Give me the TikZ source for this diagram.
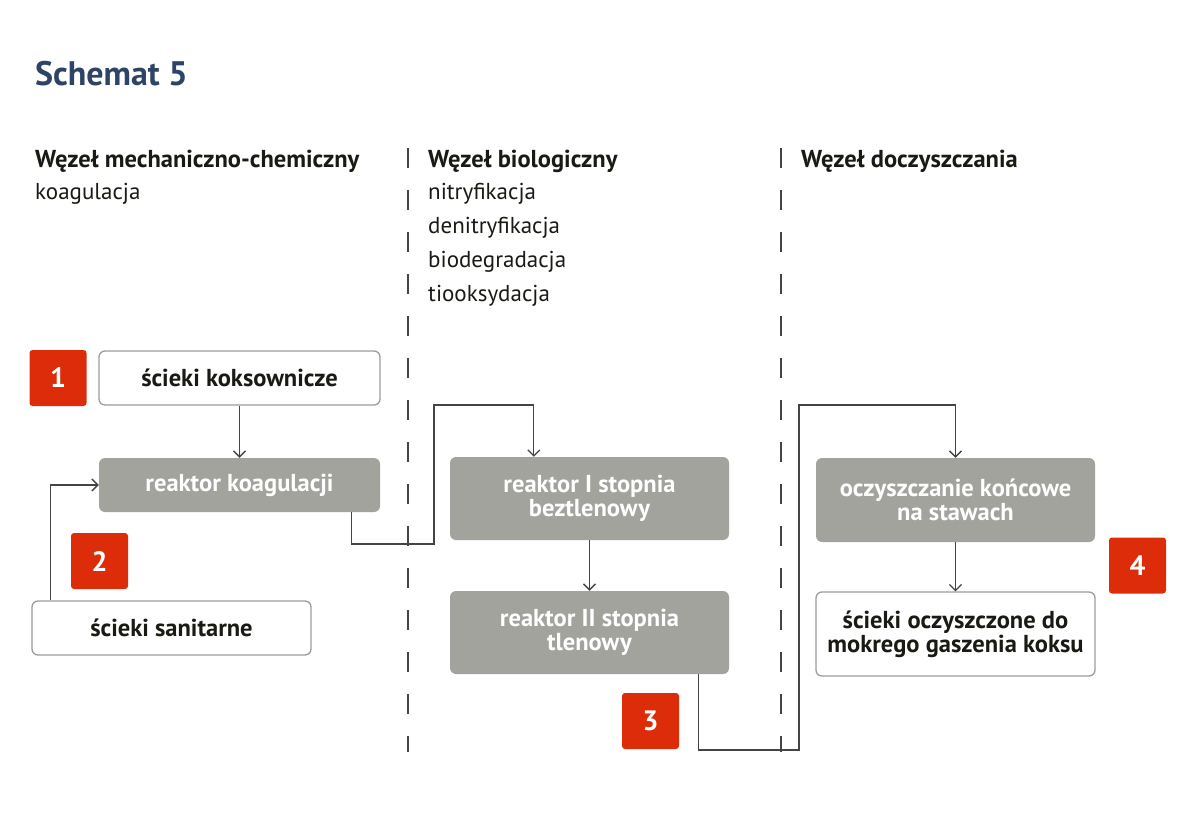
\documentclass[tikz,border=0pt]{standalone}
\usepackage{fontspec}
\setmainfont{PT Sans}
\usetikzlibrary{arrows.meta,calc}
\definecolor{boxgray}{HTML}{A3A39E}
\definecolor{badgered}{HTML}{DD2C0A}
\definecolor{titleblue}{HTML}{2E4466}
\definecolor{linegray}{HTML}{444444}
\definecolor{bordergray}{HTML}{9C9C9C}
\definecolor{txt}{HTML}{1A1A14}
\tikzset{
  whitebox/.style={draw=bordergray,line width=1.3pt,fill=white,rounded corners=6pt,minimum width=279pt,align=center,text=txt,font=\fontsize{24.5}{24}\selectfont\bfseries,inner sep=0pt},
  graybox/.style={fill=boxgray,rounded corners=6pt,minimum width=279pt,align=center,text=white,font=\fontsize{24.5}{24}\selectfont\bfseries,inner sep=0pt},
  badge/.style={fill=badgered,rounded corners=3pt,minimum width=57pt,minimum height=56pt,text=white,font=\fontsize{28}{30}\selectfont\bfseries,inner sep=0pt},
  flow/.style={draw=linegray,line width=1.3pt,-{Straight Barb[length=6pt,width=12pt,line width=1.3pt]}},
  sep/.style={draw=linegray,line width=1.3pt,dash pattern=on 20pt off 22pt},
  head/.style={anchor=base west,font=\fontsize{24.5}{26}\selectfont\bfseries,text=txt,inner sep=0pt},
  item/.style={anchor=base west,font=\fontsize{23}{26}\selectfont,text=txt,inner sep=0pt}
}
\begin{document}
\begin{tikzpicture}[x=1pt,y=-1pt]
\useasboundingbox (0,0) rectangle (1200,816);
% title
\node[anchor=base west,inner sep=0pt,text=titleblue,font=\fontsize{34}{36}\selectfont\bfseries] (title) at (35,85) {Schemat 5};
% column headers
\node[head] (h1) at (35,167) {Węzeł mechaniczno-chemiczny};
\node[item] (h1a) at (35,199) {koagulacja};
\node[head] (h2) at (428,167) {Węzeł biologiczny};
\node[item] (h2a) at (428,199) {nitryfikacja};
\node[item] (h2b) at (428,233) {denitryfikacja};
\node[item] (h2c) at (428,267) {biodegradacja};
\node[item] (h2d) at (428,301) {tiooksydacja};
\node[head] (h3) at (801,167) {Węzeł doczyszczania};
% separators
\coordinate (s1t) at (408,148); \coordinate (s1b) at (408,752);
\coordinate (s2t) at (781,148); \coordinate (s2b) at (781,752);
\draw[sep] (s1t) -- (s1b);
\draw[sep] (s2t) -- (s2b);
% boxes
\node[whitebox,minimum width=281pt,minimum height=54pt] (koks) at (239.5,378) {ścieki koksownicze};
\node[graybox,minimum width=281pt,minimum height=54pt] (koag) at (239.5,485) {reaktor koagulacji};
\node[whitebox,minimum height=54pt] (sanit) at (171.5,628) {ścieki sanitarne};
\node[graybox,minimum height=83pt] (r1) at (589.5,498.5) {reaktor I stopnia\\beztlenowy};
\node[graybox,minimum height=83pt] (r2) at (589.5,632.5) {reaktor II stopnia\\tlenowy};
\node[graybox,minimum height=84pt] (ocz) at (955.5,500) {oczyszczanie końcowe\\na stawach};
\node[whitebox,minimum height=84pt] (out) at (955.5,634) {ścieki oczyszczone do\\mokrego gaszenia koksu};
% badges
\node[badge] (b1) at (58,378) {1};
\node[badge] (b2) at (99.5,561) {2};
\node[badge] (b3) at (650.5,721) {3};
\node[badge] (b4) at (1137.5,565.5) {4};
% connectors
\coordinate (c1) at (434,544);
\coordinate (c2) at (434,405);
\coordinate (c3) at (799,750);
\coordinate (c4) at (799,405);
\draw[flow] (koks) -- (koag);
\draw[flow] ([xshift=19pt]sanit.north west) |- (koag.west);
\draw[flow] ([xshift=-29pt]koag.south east) |- (c1) -- (c2) -| ([xshift=84pt]r1.north west);
\draw[flow] (r1) -- (r2);
\draw[flow] ([xshift=-31pt]r2.south east) |- (c3) -- (c4) -| (ocz.north);
\draw[flow] (ocz) -- (out);
\end{tikzpicture}
\end{document}
